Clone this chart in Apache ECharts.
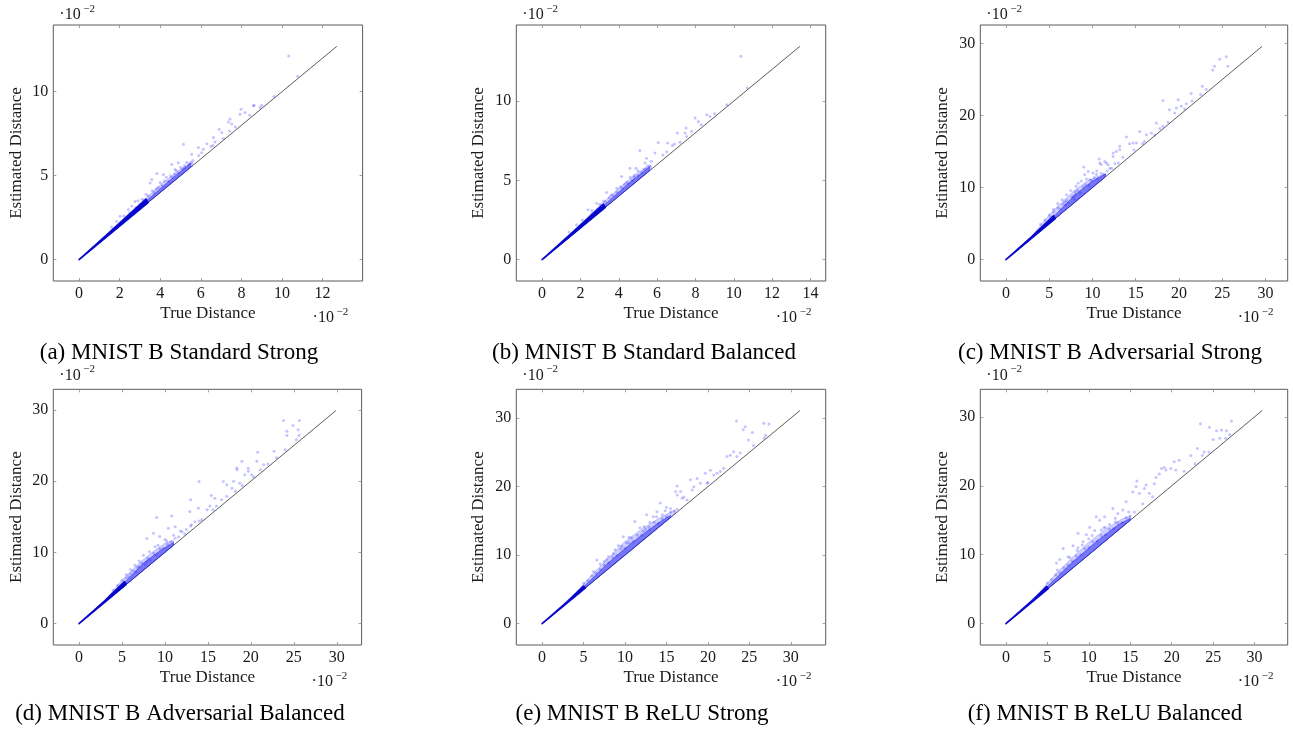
<!DOCTYPE html>
<html><head><meta charset="utf-8">
<script src="https://cdn.jsdelivr.net/npm/echarts@6/dist/echarts.min.js"></script>
<style>html,body{margin:0;padding:0;background:#fff}#c{width:1293px;height:731px}</style>
</head><body><div id="c"></div>
<script>
// ---------------- DATA (values in units of 10^-2) ----------------
const captions = ["(a) MNIST B Standard Strong","(b) MNIST B Standard Balanced","(c) MNIST B Adversarial Strong",
  "(d) MNIST B Adversarial Balanced","(e) MNIST B ReLU Strong","(f) MNIST B ReLU Balanced"];
const xTitle = "True Distance";
const yTitle = "Estimated Distance";
const diagMax = [12.7, 13.45, 29.6, 29.9, 31.1, 30.9];
const xTicksA = [0,2,4,6,8,10,12];
const xTicksB = [0,2,4,6,8,10,12,14];
const xTicksC = [0,5,10,15,20,25,30];
const yTicksAB = [0,5,10];
const yTicksC = [0,10,20,30];

// darkest core of the point cloud (outline)
const coreA = [[0,0],[1.5,1.62],[3.3,3.6],[3.4,3.4]];
const coreB = [[0,0],[1.5,1.62],[3.2,3.5],[3.3,3.3]];
const coreC = [[0,0],[3,3.2],[5.5,6.1],[5.7,5.7]];
const coreD = [[0,0],[3,3.2],[5.3,5.9],[5.5,5.5]];
const coreE = [[0,0],[3,3.15],[5,5.5],[5.2,5.2]];
const coreF = [[0,0],[3,3.15],[4.9,5.4],[5.1,5.1]];

// dense inner band of the cloud (outline)
const innerA = [[0,0],[3.4,3.6],[4.5,4.75],[5.5,5.75],[5.5,5.5]];
const innerB = [[0,0],[3.3,3.5],[4.5,4.8],[5.6,5.85],[5.6,5.6]];
const innerC = [[0,0],[5.7,6.2],[8,9.0],[10,10.9],[11.5,11.9],[11.5,11.5]];
const innerD = [[0,0],[5.5,6.0],[7.5,8.5],[9.5,10.3],[11,11.4],[11,11]];
const innerE = [[0,0],[5.2,5.6],[8,8.9],[11,12.0],[14,14.7],[15.5,15.8],[15.5,15.5]];
const innerF = [[0,0],[5.1,5.5],[8,8.9],[11,12.0],[13.5,14.3],[15,15.3],[15,15]];

// sparser outer band of the cloud (outline)
const bandA = [[0,0],[2,2.25],[3,3.35],[4,4.45],[5,5.4],[5.6,5.8],[5.6,5.6]];
const bandB = [[0,0],[2,2.25],[3,3.4],[4,4.5],[5,5.5],[5.7,5.95],[5.7,5.7]];
const bandC = [[0,0],[3,3.3],[5,6.2],[7,8.6],[8,9.7],[9.5,11.0],[10.5,11.5],[11.5,11.9],[11.5,11.5]];
const bandD = [[0,0],[3,3.3],[5,6.1],[7,8.5],[8.5,10.0],[10,11.3],[11,11.7],[11,11]];
const bandE = [[0,0],[4,4.5],[6,7.1],[8,9.6],[10,12.0],[12,13.8],[14,15.3],[16,16.6],[16,16]];
const bandF = [[0,0],[4,4.5],[6,7.2],[8,9.6],[10,11.8],[12,13.7],[14,15.2],[15,15.6],[15,15]];

// individual points
const ptsA = [[10.33,12.12],[10.77,10.92],[9.6,9.72],[8.62,9.2],[8.59,9.16],[8.92,9.06],[7.98,8.96],[7.93,8.66],[8.18,8.76],[7.44,8.37],[7.36,8.2],[7.52,8.07],[7.41,7.66],[6.9,7.77],[7.03,7.57],[6.62,7.27],[7.11,7.21],[5.14,6.87],[5.88,6.67],[6.04,6.37],[5.55,6.27],[6.12,6.57],[6.3,6.9],[6.5,6.75],[6.7,7.0],[4.89,5.77],[4.57,5.67],[4.73,5.37],[5.0,5.5],[5.3,5.8],[5.2,5.6],[3.83,5.13],[4.15,5.07],[3.58,4.77],[3.5,4.57],[4.3,4.9],[4.5,5.0],[4.0,4.6],[3.9,4.3],[2.76,3.47],[2.43,2.98],[2.02,2.58],[1.85,2.28],[2.9,3.5],[3.1,3.6],[3.3,3.9],[2.6,3.2],[2.2,2.6],[1.6,1.95],[3.6,4.1],[4.8,5.3],[5.6,5.9],[5.9,6.2],[6.6,6.8],[7.7,7.9],[8.4,8.6],[9.0,9.2],
  [3.2,3.55],[3.4,3.8],[3.7,4.0],[3.8,4.2],[4.1,4.4],[4.2,4.7],[4.4,4.65],[4.6,4.9],[4.7,5.1],[4.9,5.15],[5.1,5.4],[5.2,5.45],[5.4,5.7],[5.5,5.8],[2.5,2.8],[2.8,3.1],[3.0,3.3]];
const ptsB = [[10.37,12.82],[10.7,10.82],[9.63,9.77],[7.98,8.93],[8.59,9.13],[8.15,8.71],[8.76,9.03],[7.51,8.3],[7.46,7.98],[7.54,7.77],[7.05,7.98],[6.55,7.35],[6.06,7.39],[5.1,6.88],[5.89,6.72],[5.45,6.4],[5.37,6.09],[4.9,5.77],[4.58,5.77],[4.15,5.24],[3.36,4.23],[2.4,3.14],[2.84,3.56],[6.8,7.2],[6.3,6.6],[7.2,7.4],[8.3,8.5],[5.7,6.2],[5.0,5.6],[4.6,5.2],[4.4,4.9],[3.9,4.5],[3.6,4.1],[3.2,3.7],[3.0,3.5],[2.6,3.1],[2.1,2.5],[1.8,2.2],[1.4,1.75],[4.1,4.6],[5.3,5.7],[6.5,6.8],[6.9,7.3],[7.8,8.1],[9.0,9.2],[4.8,5.3],[5.5,5.9],
  [3.3,3.65],[3.5,3.9],[3.7,4.05],[3.9,4.25],[4.2,4.5],[4.3,4.75],[4.5,4.8],[4.7,5.0],[4.8,5.2],[5.0,5.3],[5.2,5.5],[5.4,5.75],[5.6,5.9],[2.6,2.9],[2.9,3.2],[3.1,3.4]];
const ptsC = [[25.46,28.15],[24.7,27.8],[25.65,26.85],[24.1,26.85],[23.9,26.3],[22.7,24.06],[23.15,23.6],[21.4,23.05],[19.9,22.2],[18.15,22.1],[18.9,20.8],[19.7,21.06],[20.27,21.28],[19.5,20.36],[20.85,21.65],[20.65,20.9],[18.73,19.05],[18.15,18.5],[17.39,18.97],[15.46,17.8],[16.23,17.34],[16.81,17.58],[17.2,17.3],[13.93,17.02],[14.3,16.09],[15.08,16.19],[14.7,16.2],[13.15,15.72],[12.77,15.02],[13.15,15.26],[12.38,14.33],[12.4,14.8],[10.77,13.96],[10.85,13.4],[11.42,13.63],[11.8,13.17],[9.0,12.85],[9.5,12.24],[10.07,12.02],[10.46,11.8],[9.7,11.1],[8.35,10.6],[8.1,10.2],[7.0,9.0],[7.77,8.76],[9.1,11.8],[13.5,14.2],[14.8,15.2],[16.0,16.4],[12.0,12.7],[11.0,13.2],[11.6,13.4],[8.7,10.9],[9.3,11.2],[7.5,9.6],[6.5,8.3],[6.0,7.8],[5.5,7.0],[6.8,8.0],[8.0,9.4],[10.5,12.3],[21.5,22.0],[22.5,22.9],[17.8,18.2],[15.8,16.1],
  [4.5,5.5],[5,6.2],[5.5,6.6],[6,7.2],[6.3,7.0],[6.6,7.7],[7,8.2],[7.2,7.9],[7.6,8.7],[8,9.0],[8.3,9.6],[8.6,9.3],[8.9,10.1],[9.2,10.4],[9.6,10.3],[9.9,11.0],[10.2,11.4],[10.6,11.2],[11,12.0],[11.3,11.9],[11.7,12.3],[12.2,12.7],[12.6,13.3],[13,13.4],[4,4.9],[5.2,5.9],[6.9,7.6],[7.9,8.4]];
const ptsD = [[23.8,28.5],[24.9,27.8],[25.65,28.5],[24.2,27.0],[24.2,26.4],[25.5,27.2],[25.6,26.4],[20.8,24.05],[22.7,24.2],[23.0,23.3],[20.7,22.8],[18.95,22.8],[18.4,21.6],[19.7,21.8],[19.7,21.4],[20.1,20.9],[19.3,20.9],[21.1,21.6],[21.5,22.3],[20.3,20.6],[18.35,21.85],[13.97,19.95],[16.8,19.95],[17.2,19.5],[17.8,19.0],[18.2,18.6],[18.0,20.0],[18.7,19.7],[15.4,18.0],[15.8,17.6],[16.6,17.4],[17.2,17.9],[15.25,16.5],[14.9,16.0],[15.6,16.0],[13.0,17.4],[12.9,15.75],[13.9,16.2],[9.04,14.9],[10.8,15.1],[13.1,13.9],[13.5,14.3],[14.3,14.6],[11.2,13.6],[10.4,13.4],[9.4,12.24],[10.0,11.8],[8.85,10.8],[8.66,12.7],[7.9,11.97],[7.5,9.6],[6.5,8.2],[6.0,7.6],[7.0,8.8],[8.2,10.1],[9.2,11.0],[10.2,11.6],[11.0,12.4],[11.8,13.0],[5.5,6.9],[12.5,13.2],[16.0,16.5],[14.0,14.4],[24.0,24.4],[25.3,25.8],[22.0,22.4],[19.0,19.4],
  [4.5,5.4],[5,6.1],[5.5,6.4],[6,7.0],[6.3,7.4],[6.6,7.3],[7,8.0],[7.3,8.5],[7.7,8.3],[8,9.2],[8.3,8.9],[8.7,9.9],[9,9.6],[9.4,10.5],[9.8,10.6],[10.3,11.1],[10.7,11.5],[11.2,12.0],[11.6,12.2],[12,12.9],[12.3,12.6],[13,13.7],[4,4.7],[5.8,6.6],[6.8,7.9],[7.9,8.7]];
const ptsE = [[23.45,29.6],[24.5,28.75],[24.25,28.3],[26.75,29.25],[27.36,29.15],[25.35,27.9],[24.9,26.8],[26.96,27.5],[23.1,25.1],[22.7,24.6],[23.5,24.4],[23.9,24.9],[22.3,24.4],[20.3,22.4],[21.1,21.95],[21.9,22.7],[19.7,21.95],[20.7,21.7],[17.9,21.0],[19.1,20.5],[18.7,21.2],[18.3,20.0],[16.3,20.1],[16.7,19.3],[16.1,19.3],[17.1,18.5],[17.5,18.06],[14.25,17.6],[12.6,15.9],[13.4,15.6],[13.85,16.35],[9.8,12.7],[6.6,9.3],[7.0,8.7],[11.2,14.9],[14.85,16.5],[16.3,18.8],[16.9,18.3],[18.1,19.5],[19.9,20.5],[8.6,10.2],[10.5,12.6],[11.8,14.0],[12.2,13.5],[9.2,11.4],[10.2,11.8],[8.0,9.8],[7.5,9.1],[14.5,15.9],[15.5,16.8],[13.0,14.8],[15.0,17.0],[12.9,14.1],[21.5,22.2],[20.0,20.6],[25.5,26.0],[26.8,27.1],
  [5,5.9],[5.5,6.3],[6,7.0],[6.5,7.4],[7,7.9],[7.5,8.6],[8,8.9],[8.5,9.7],[9,10.0],[9.5,10.9],[10,11.0],[10.5,11.8],[11,12.0],[11.5,12.9],[12,12.9],[12.5,13.8],[13,13.7],[13.5,14.8],[14,14.6],[14.5,15.3],[15,15.6],[15.5,16.3],[16,16.4],[16.3,16.7],[6.2,7.6],[7.8,9.4],[9.6,11.3],[10.8,12.5],[12.3,14.2],[13.8,15.6],[8.8,10.8]];
const ptsF = [[23.47,29.0],[24.55,28.5],[27.2,29.4],[26.6,27.97],[25.4,27.97],[25.0,26.7],[25.8,26.9],[27.0,27.4],[26.0,28.1],[23.9,24.9],[23.7,24.4],[23.1,25.4],[22.3,24.4],[20.3,23.5],[20.9,23.7],[19.9,22.5],[20.5,22.3],[19.3,22.3],[18.75,22.5],[19.1,22.65],[18.1,21.2],[18.5,21.7],[16.9,20.1],[16.7,19.6],[17.9,20.3],[17.3,18.9],[17.7,18.4],[15.8,20.7],[15.7,19.9],[15.3,19.1],[16.1,18.9],[14.5,17.7],[12.9,16.7],[13.5,15.99],[14.1,16.5],[11.3,15.0],[11.9,15.5],[10.9,15.5],[10.1,14.0],[10.7,13.5],[8.7,13.1],[8.1,11.3],[6.9,10.9],[6.5,9.3],[6.1,8.8],[9.3,11.9],[10.0,12.3],[11.5,13.6],[12.5,14.4],[13.2,14.8],[8.6,10.6],[7.5,9.7],[9.7,12.9],[12.0,14.0],[14.8,16.2],[16.5,17.4],[21.5,22.1],[22.8,23.2],[24.5,24.9],[26.5,26.9],
  [5,5.9],[5.5,6.4],[6,7.1],[6.5,7.4],[7,8.1],[7.5,8.5],[8,9.1],[8.5,9.8],[9,10.0],[9.5,10.9],[10,11.1],[10.5,11.9],[11,12.0],[11.5,12.8],[12,12.9],[12.5,13.7],[13,13.8],[13.5,14.6],[14,14.7],[14.5,15.4],[15,15.6],[15.5,16.2],[6.2,7.8],[7.7,9.6],[9.2,11.4],[10.4,12.8],[11.8,13.9],[13.2,15.3],[8.7,11.0]];

// ---------------- LAYOUT ----------------
const boxes = [
  {l:53.3, t:25, w:309.3, h:256},
  {l:516.3, t:25, w:309.4, h:256},
  {l:980.3, t:25, w:307.4, h:256},
  {l:53.3, t:389.3, w:308.3, h:255.7},
  {l:516.3, t:389.3, w:309.4, h:255.7},
  {l:980.3, t:389.3, w:307.4, h:255.7}
];
const capPos = [[179,353],[644,353],[1110,353],[180,714],[642,714],[1105,714]];
const yTitleX = [17,479,943,17,479,943];
const panels = [
  {x:xTicksA, y:yTicksAB, core:coreA, inner:innerA, band:bandA, pts:ptsA},
  {x:xTicksB, y:yTicksAB, core:coreB, inner:innerB, band:bandB, pts:ptsB},
  {x:xTicksC, y:yTicksC, core:coreC, inner:innerC, band:bandC, pts:ptsC},
  {x:xTicksC, y:yTicksC, core:coreD, inner:innerD, band:bandD, pts:ptsD},
  {x:xTicksC, y:yTicksC, core:coreE, inner:innerE, band:bandE, pts:ptsE},
  {x:xTicksC, y:yTicksC, core:coreF, inner:innerF, band:bandF, pts:ptsF}
];

const FONT = '"Liberation Serif", "DejaVu Serif", serif';
const TXT = '#1a1a1a';
const grids = [], xAxes = [], yAxes = [], series = [], graphics = [];

function polySeries(i, pts, fill, stroke, lw, z) {
  return {
    type: 'custom', coordinateSystem: 'cartesian2d', xAxisIndex: i, yAxisIndex: i,
    data: pts, silent: true, z: z,
    renderItem: function (params, api) {
      if (params.dataIndex !== 0) return null;
      const p = pts.map(function (d) { return api.coord(d); });
      return { type: 'polygon', shape: { points: p },
        style: { fill: fill, stroke: stroke, lineWidth: lw, lineJoin: 'round' } };
    }
  };
}

panels.forEach(function (pn, i) {
  const b = boxes[i];
  const m = diagMax[i];
  const lo = -0.1 * m, hi = 1.1 * m;
  grids.push({left: b.l, top: b.t, width: b.w, height: b.h, show: true,
    borderColor: '#5a5a5a', borderWidth: 1, backgroundColor: 'transparent',
    containLabel: false, outerBoundsMode: 'none'});
  const tickStyle = {show: true, inside: true, length: 3, lineStyle: {color: '#8a8a8a', width: 0.8}};
  const noLine = {show: false, onZero: false};
  xAxes[i] = {type: 'value', gridIndex: i, min: lo, max: hi, position: 'bottom',
    axisLine: noLine, splitLine: {show: false},
    axisTick: Object.assign({customValues: pn.x}, tickStyle),
    axisLabel: {customValues: pn.x, margin: 5, fontFamily: FONT, fontSize: 16, color: TXT}};
  yAxes[i] = {type: 'value', gridIndex: i, min: lo, max: hi, position: 'left',
    axisLine: noLine, splitLine: {show: false},
    axisTick: Object.assign({customValues: pn.y}, tickStyle),
    axisLabel: {customValues: pn.y, margin: 5, fontFamily: FONT, fontSize: 16, color: TXT}};
  xAxes[i + 6] = {type: 'value', gridIndex: i, min: lo, max: hi, position: 'top',
    axisLine: noLine, splitLine: {show: false},
    axisTick: Object.assign({customValues: pn.x}, tickStyle), axisLabel: {show: false}};
  yAxes[i + 6] = {type: 'value', gridIndex: i, min: lo, max: hi, position: 'right',
    axisLine: noLine, splitLine: {show: false},
    axisTick: Object.assign({customValues: pn.y}, tickStyle), axisLabel: {show: false}};

  series.push({type: 'line', xAxisIndex: i, yAxisIndex: i, data: [[0, 0], [m, m]],
    symbol: 'none', silent: true, lineStyle: {color: '#4a4a4a', width: 0.9}, z: 2});
  series.push(polySeries(i, pn.band, 'rgba(60,60,250,0.24)', 'rgba(60,60,250,0.24)', 1, 3));
  series.push(polySeries(i, pn.inner, 'rgba(20,20,235,0.47)', 'rgba(20,20,235,0.47)', 1, 4));
  series.push(polySeries(i, pn.core, '#0808cc', '#0808cc', 1.6, 5));
  series.push({type: 'scatter', xAxisIndex: i, yAxisIndex: i, data: pn.pts, symbol: 'circle',
    symbolSize: 3, silent: true, itemStyle: {color: 'rgba(30,30,255,0.33)'}, z: 6});

  // axis titles
  graphics.push({type: 'text', x: b.l + b.w / 2, y: b.t + b.h + 32.5, silent: true,
    style: {text: xTitle, font: '17px ' + FONT, fill: TXT, textAlign: 'center', textVerticalAlign: 'middle'}});
  graphics.push({type: 'text', x: yTitleX[i], y: b.t + b.h / 2, rotation: Math.PI / 2, silent: true,
    style: {text: yTitle, font: '17px ' + FONT, fill: TXT, textAlign: 'center', textVerticalAlign: 'middle'}});
  // scale labels
  const topY = i < 3 ? b.t - 10 : b.t - 14;
  const botY = b.t + b.h + 37;
  const bx = b.l + b.w - 50;
  [[b.l + 6, topY], [bx, botY]].forEach(function (p) {
    graphics.push({type: 'text', x: p[0], y: p[1], silent: true,
      style: {text: '·10', font: '16px ' + FONT, fill: TXT, textAlign: 'left', textVerticalAlign: 'middle'}});
    graphics.push({type: 'text', x: p[0] + 24, y: p[1] - 6, silent: true,
      style: {text: '−2', font: '11px ' + FONT, fill: TXT, textAlign: 'left', textVerticalAlign: 'middle'}});
  });
  // caption
  graphics.push({type: 'text', x: capPos[i][0], y: capPos[i][1], silent: true,
    style: {text: captions[i], font: '23px ' + FONT, fill: '#000', textAlign: 'center', textVerticalAlign: 'middle'}});
});

const chart = echarts.init(document.getElementById('c'), null, {renderer: 'canvas'});
chart.setOption({
  animation: false, backgroundColor: '#fff',
  grid: grids, xAxis: xAxes, yAxis: yAxes, series: series, graphic: graphics
});
</script></body></html>
